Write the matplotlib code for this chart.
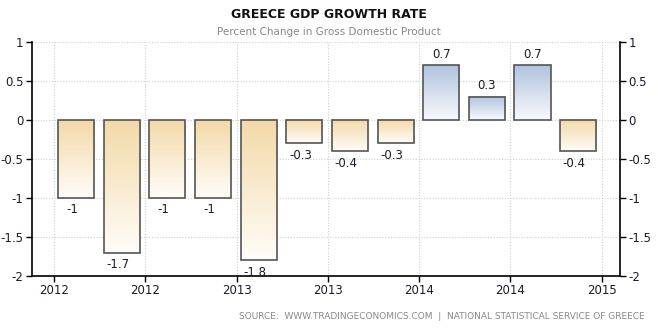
import numpy as np
import matplotlib.pyplot as plt
from matplotlib.colors import LinearSegmentedColormap

quarters = ['Q1 2012', 'Q2 2012', 'Q3 2012', 'Q4 2012',
            'Q1 2013', 'Q2 2013', 'Q3 2013', 'Q4 2013',
            'Q1 2014', 'Q2 2014', 'Q3 2014', 'Q4 2014']
growth = [-1, -1.7, -1, -1, -1.8, -0.3, -0.4, -0.3, 0.7, 0.3, 0.7, -0.4]
tick_labels = ['2012', '2012', '2013', '2013', '2014', '2014', '2015']

# months since Jan 2012
bar_x = 1.45 + 3 * np.arange(len(growth))
tick_x = 6 * np.arange(len(tick_labels))
bar_w = 2.37

neg_cmap = LinearSegmentedColormap.from_list('neg', ['#f3d9a8', '#fffdf8'])
pos_cmap = LinearSegmentedColormap.from_list('pos', ['#b0c3de', '#f8fafd'])

fig = plt.figure(figsize=(6.58, 3.32), dpi=100)
ax = fig.add_axes([0.0486, 0.1687, 0.8936, 0.7048])
ax.set_xlim(-1.45, 37.2)
ax.set_ylim(-2, 1)

grad = np.linspace(0, 1, 256).reshape(-1, 1)
for x, v in zip(bar_x, growth):
    cmap = pos_cmap if v > 0 else neg_cmap
    top, bot = max(v, 0), min(v, 0)
    ax.imshow(grad, cmap=cmap, aspect='auto', origin='upper',
              extent=[x - bar_w / 2, x + bar_w / 2, bot, top], zorder=2)
    ax.bar(x, v, width=bar_w, facecolor='none', edgecolor='#555555',
           linewidth=1.2, zorder=3)
    if v > 0:
        ax.text(x, v + 0.06, f'{v:g}', ha='center', va='bottom',
                fontsize=8.5, color='#1a1a2e', zorder=4)
    else:
        ax.text(x - 0.25, v - 0.07, f'{v:g}', ha='center', va='top',
                fontsize=8.5, color='#1a1a2e', zorder=4)

ax.set_xticks(tick_x)
ax.set_xticklabels(tick_labels)
ax.set_yticks([1, 0.5, 0, -0.5, -1, -1.5, -2])
ax.set_yticklabels(['1', '0.5', '0', '-0.5', '-1', '-1.5', '-2'])
ax.grid(True, color='#cfcfcf', linestyle=(0, (1, 1.5)), linewidth=0.8, zorder=0)
ax.set_axisbelow(True)

ax.spines['top'].set_visible(False)
for s in ['left', 'right', 'bottom']:
    ax.spines[s].set_color('black')
    ax.spines[s].set_linewidth(1.2)
ax.tick_params(axis='both', direction='out', length=4, width=1,
               labelsize=8.5, labelcolor='#1a1a2e', pad=2)
ax.tick_params(axis='y', right=True, labelright=True)

fig.text(0.5, 0.955, 'GREECE GDP GROWTH RATE', ha='center', va='center',
         fontsize=9, fontweight='bold', color='#111111')
fig.text(0.5, 0.905, 'Percent Change in Gross Domestic Product', ha='center',
         va='center', fontsize=7.5, color='#888888')
fig.text(0.98, 0.048,
         'SOURCE:  WWW.TRADINGECONOMICS.COM  |  NATIONAL STATISTICAL SERVICE OF GREECE',
         ha='right', va='center', fontsize=6.5, color='#888888')

fig.savefig('out.png', dpi=100)
